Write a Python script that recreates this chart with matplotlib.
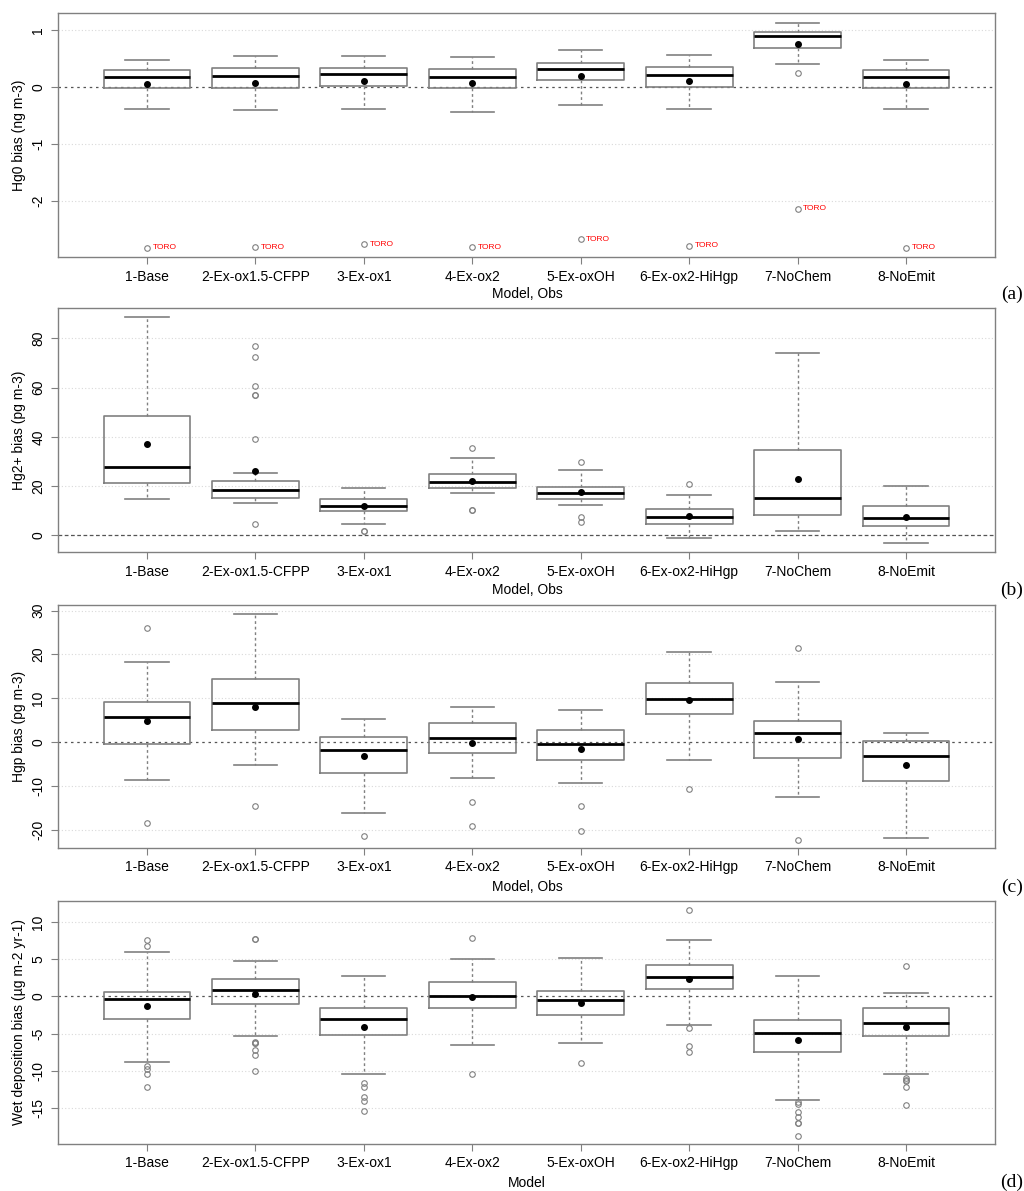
import matplotlib
matplotlib.use("Agg")
import matplotlib.pyplot as plt

plt.rcParams["font.family"] = ["Liberation Sans", "DejaVu Sans"]

MODELS = ["1-Base", "2-Ex-ox1.5-CFPP", "3-Ex-ox1", "4-Ex-ox2",
          "5-Ex-oxOH", "6-Ex-ox2-HiHgp", "7-NoChem", "8-NoEmit"]

# ── (a) Hg0 bias, ng m-3 ──────────────────────────────────────────────────────
HG0_WHISLO = [-0.39, -0.40, -0.39, -0.43, -0.32, -0.39, 0.41, -0.39]
HG0_Q1     = [-0.01, -0.01, 0.02, -0.02, 0.12, 0.01, 0.69, -0.02]
HG0_MED    = [0.18, 0.19, 0.23, 0.18, 0.31, 0.21, 0.90, 0.18]
HG0_Q3     = [0.30, 0.33, 0.34, 0.31, 0.43, 0.35, 0.96, 0.30]
HG0_WHISHI = [0.47, 0.54, 0.55, 0.52, 0.65, 0.56, 1.13, 0.47]
HG0_MEAN   = [0.06, 0.08, 0.10, 0.07, 0.20, 0.10, 0.75, 0.06]
HG0_FLIERS = [[-2.82], [-2.81], [-2.76], [-2.81], [-2.67], [-2.78],
              [0.24, -2.13], [-2.82]]
TORO_HG0   = [-2.82, -2.81, -2.76, -2.81, -2.67, -2.78, -2.13, -2.82]

# ── (b) Hg2+ bias, pg m-3 ─────────────────────────────────────────────────────
HG2_WHISLO = [14.8, 13.0, 4.7, 17.3, 12.3, -1.2, 1.6, -3.1]
HG2_Q1     = [21.3, 15.3, 10.0, 19.4, 14.6, 4.5, 8.3, 3.9]
HG2_MED    = [27.6, 18.5, 11.9, 21.5, 17.2, 7.3, 15.0, 7.0]
HG2_Q3     = [48.5, 22.2, 14.6, 25.0, 19.5, 10.7, 34.5, 12.0]
HG2_WHISHI = [88.5, 25.3, 19.1, 31.3, 26.5, 16.2, 74.2, 20.2]
HG2_MEAN   = [37.0, 26.3, 11.9, 22.2, 17.5, 7.9, 22.9, 7.6]
HG2_FLIERS = [[], [76.9, 72.4, 60.5, 56.9, 56.9, 39.0, 4.7], [1.9, 1.9],
              [35.6, 10.2, 10.2], [29.9, 7.3, 5.3], [20.7], [], []]

# ── (c) Hgp bias, pg m-3 ──────────────────────────────────────────────────────
HGP_WHISLO = [-8.7, -5.3, -16.3, -8.1, -9.4, -4.0, -12.5, -22.0]
HGP_Q1     = [-0.4, 2.8, -7.1, -2.4, -4.0, 6.3, -3.7, -9.0]
HGP_MED    = [5.8, 9.0, -1.9, 0.9, -0.5, 9.8, 2.0, -3.2]
HGP_Q3     = [9.1, 14.4, 1.1, 4.3, 2.7, 13.5, 4.7, 0.3]
HGP_WHISHI = [18.3, 29.3, 5.2, 8.1, 7.4, 20.6, 13.7, 2.1]
HGP_MEAN   = [4.7, 8.1, -3.2, -0.3, -1.6, 9.5, 0.8, -5.2]
HGP_FLIERS = [[26.1, -18.6], [-14.7], [-21.4], [-13.6, -19.1],
              [-14.7, -20.4], [-10.7], [21.5, -22.3], []]

# ── (d) wet deposition bias, ug m-2 yr-1 ──────────────────────────────────────
WET_WHISLO = [-8.75, -5.3, -10.4, -6.5, -6.25, -3.8, -13.9, -10.4]
WET_Q1     = [-3.1, -1.0, -5.2, -1.6, -2.5, 1.0, -7.5, -5.3]
WET_MED    = [-0.4, 0.85, -3.1, 0.05, -0.54, 2.6, -4.9, -3.6]
WET_Q3     = [0.6, 2.3, -1.6, 1.9, 0.76, 4.2, -3.2, -1.6]
WET_WHISHI = [5.9, 4.7, 2.7, 5.0, 5.2, 7.5, 2.7, 0.5]
WET_MEAN   = [-1.3, 0.27, -4.1, -0.13, -0.85, 2.3, -5.9, -4.1]
WET_FLIERS = [[7.5, 6.8, -9.3, -9.7, -10.4, -12.2],
              [7.7, 7.7, -6.1, -6.25, -6.25, -7.2, -7.8, -10.0],
              [-11.65, -12.1, -13.5, -14.1, -15.4],
              [7.9, -10.4],
              [-9.0],
              [11.65, -4.2, -6.7, -7.5],
              [-14.15, -14.5, -15.45, -16.25, -17.0, -17.0, -18.7],
              [4.1, -10.9, -11.2, -11.4, -12.2, -14.6]]

GREY = "#808080"
FS = 10


def make_stats(lo, q1, med, q3, hi, mean, fliers):
    return [dict(whislo=a, q1=b, med=c, q3=d, whishi=e, mean=f, fliers=g)
            for a, b, c, d, e, f, g in zip(lo, q1, med, q3, hi, mean, fliers)]


def draw_panel(ax, stats, ylim, yticks, ylabel, zero_style):
    pos = list(range(1, len(MODELS) + 1))
    for t in yticks:
        if t != 0:
            ax.axhline(t, color="#d9d9d9", lw=0.8, ls=(0, (1, 2)), zorder=0)
    ax.axhline(0, color="#555555", lw=0.9, ls=zero_style, zorder=1)
    ax.bxp(stats, positions=pos, widths=0.8, showmeans=True, patch_artist=False,
           boxprops=dict(color=GREY, lw=1.2),
           medianprops=dict(color="black", lw=2),
           whiskerprops=dict(color=GREY, lw=1, ls=(0, (2, 2))),
           capprops=dict(color=GREY, lw=1.2),
           flierprops=dict(marker="o", markersize=4, markerfacecolor="none",
                           markeredgecolor=GREY, markeredgewidth=0.8, ls="none"),
           meanprops=dict(marker="o", markersize=4, markerfacecolor="black",
                          markeredgecolor="black"))
    ax.set_xlim(0.18, 8.82)
    ax.set_ylim(*ylim)
    ax.set_xticks(pos)
    ax.set_xticklabels(MODELS, fontsize=FS)
    ax.set_yticks(yticks)
    ax.set_yticklabels([str(t) for t in yticks], rotation=90, va="center",
                       fontsize=FS)
    ax.set_ylabel(ylabel, fontsize=FS, labelpad=4)
    ax.tick_params(axis="both", color=GREY, length=5, pad=4)
    for sp in ax.spines.values():
        sp.set_color(GREY)
        sp.set_linewidth(1)


fig = plt.figure(figsize=(10.24, 11.91), dpi=100)
L, W = 0.0566, 0.9151
ax_a = fig.add_axes([L, 0.7842, W, 0.2049])
ax_b = fig.add_axes([L, 0.5365, W, 0.2049])
ax_c = fig.add_axes([L, 0.2880, W, 0.2040])
ax_d = fig.add_axes([L, 0.0395, W, 0.2040])

draw_panel(ax_a, make_stats(HG0_WHISLO, HG0_Q1, HG0_MED, HG0_Q3, HG0_WHISHI,
                            HG0_MEAN, HG0_FLIERS),
           (-2.98, 1.30), [-2, -1, 0, 1], "Hg0 bias (ng m-3)", (0, (2, 3)))
for i, v in enumerate(TORO_HG0):
    ax_a.annotate("TORO", (i + 1, v), xytext=(4, 0), textcoords="offset points",
                  color="red", fontsize=6, va="center", ha="left")

draw_panel(ax_b, make_stats(HG2_WHISLO, HG2_Q1, HG2_MED, HG2_Q3, HG2_WHISHI,
                            HG2_MEAN, HG2_FLIERS),
           (-6.8, 92.3), [0, 20, 40, 60, 80], "Hg2+ bias (pg m-3)", (0, (3, 2)))

draw_panel(ax_c, make_stats(HGP_WHISLO, HGP_Q1, HGP_MED, HGP_Q3, HGP_WHISHI,
                            HGP_MEAN, HGP_FLIERS),
           (-24.2, 31.3), [-20, -10, 0, 10, 20, 30], "Hgp bias (pg m-3)", (0, (2, 3)))

draw_panel(ax_d, make_stats(WET_WHISLO, WET_Q1, WET_MED, WET_Q3, WET_WHISHI,
                            WET_MEAN, WET_FLIERS),
           (-19.8, 12.8), [-15, -10, -5, 0, 5, 10],
           "Wet deposition bias (\u00b5g m-2 yr-1)", (0, (2, 3)))

# x-axis titles and panel letters
for y, xlab, letter in [(0.7531, "Model, Obs", "(a)"), (0.5046, "Model, Obs", "(b)"),
                        (0.2553, "Model, Obs", "(c)"), (0.0070, "Model", "(d)")]:
    fig.text(0.5146, y, xlab, ha="center", va="center", fontsize=FS)
    fig.text(0.999, y, letter, ha="right", va="center", fontsize=14,
             family=["Liberation Serif", "DejaVu Serif"])

fig.savefig("out.png", dpi=100, facecolor="white")
